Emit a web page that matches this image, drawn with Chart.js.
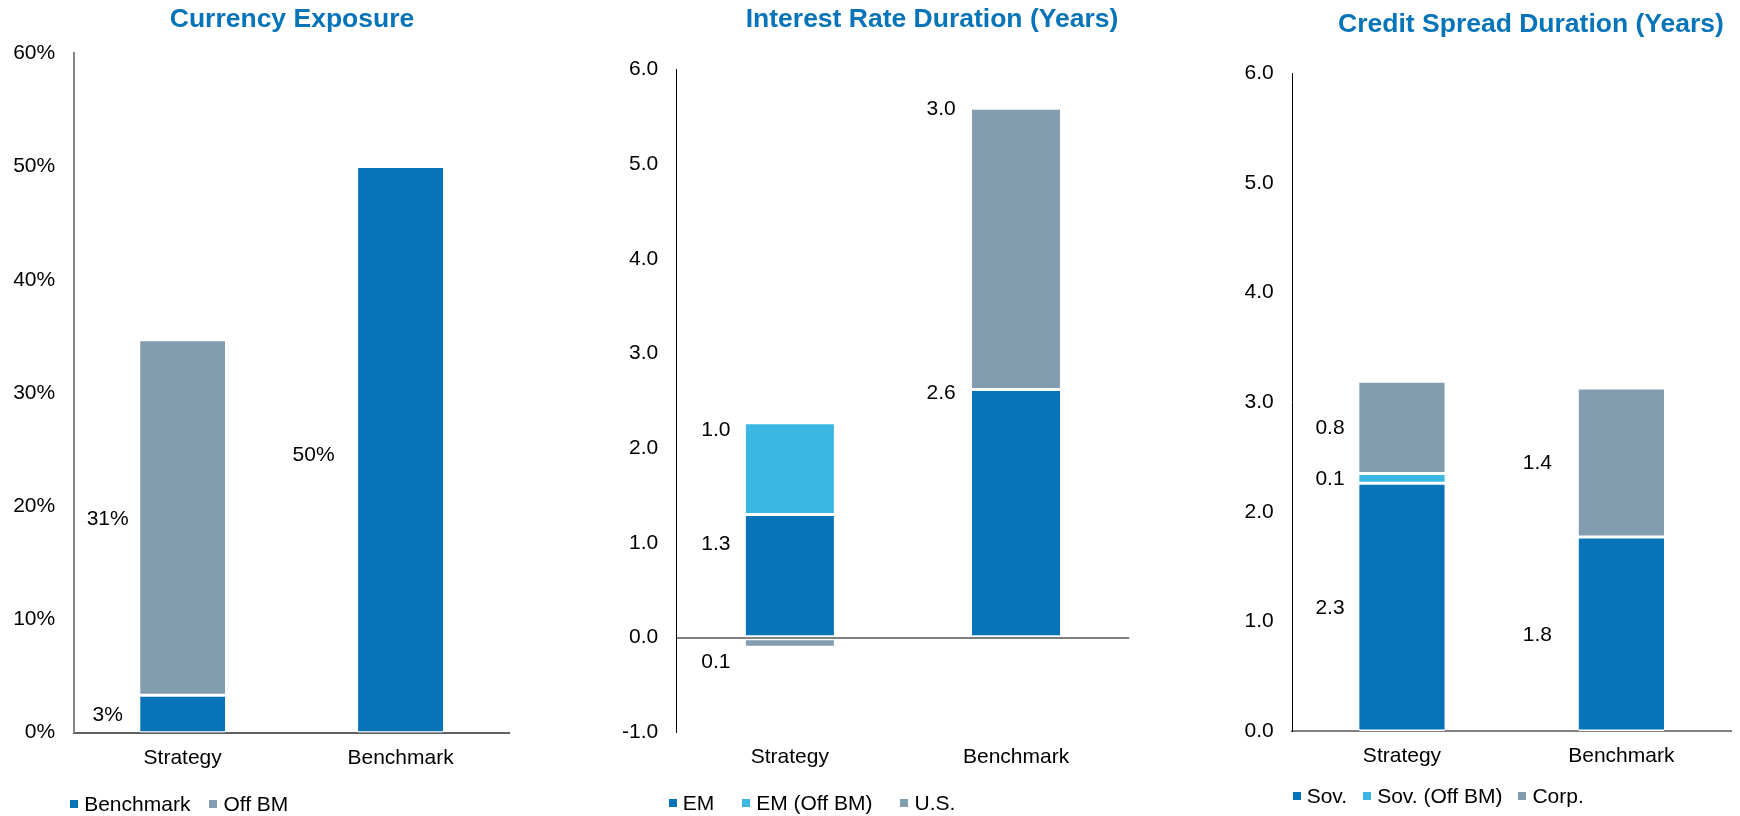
<!DOCTYPE html>
<html>
<head>
<meta charset="utf-8">
<title>Portfolio Exposures</title>
<script src="https://cdn.jsdelivr.net/npm/chart.js@4.4.1/dist/chart.umd.min.js"></script>
<style>
  html, body { margin: 0; padding: 0; background: #ffffff; width: 1740px; height: 816px; overflow: hidden; }
  canvas { position: absolute; top: 0; }
  .legend { position: absolute; display: flex; align-items: center; white-space: nowrap;
            font-family: 'Liberation Sans', Arial, sans-serif; font-size: 21px; line-height: 24px; color: #000; }
  .legend .item { display: flex; align-items: center; }
  .legend .swatch { width: 8px; height: 8px; margin-right: 6px; flex: none; }
</style>
</head>
<body>
<script>
// ---- data ----
const categories = ['Strategy', 'Benchmark'];

// Currency exposure (% of portfolio)
const currencyBenchmark = [3.3, 50];
const currencyOffBM = [31.4, null];

// Interest rate duration (years)
const rateEM = [1.3, 2.62];
const rateEMOffBM = [0.97, null];
const rateUS = [-0.1, 2.97];

// Credit spread duration (years)
const spreadSov = [2.26, 1.77];
const spreadSovOffBM = [0.09, null];
const spreadCorp = [0.84, 1.36];

// axis ticks
const pctTicks = [0, 10, 20, 30, 40, 50, 60];
const rateTicks = [-1, 0, 1, 2, 3, 4, 5, 6];
const spreadTicks = [0, 1, 2, 3, 4, 5, 6];

// ---- style ----
const DARK = '#0774B9';
const LIGHT = '#3AB7E3';
const GREY = '#839DB0';
const FONT = "'Liberation Sans', Arial, sans-serif";
const H = 816;

Chart.defaults.font.family = FONT;
Chart.defaults.color = '#000';

const panels = [
  {
    title: 'Currency Exposure', left: 0, width: 584, titleY: 20,
    area: { left: 73.7, right: 509.5, top: 53.3, bottom: 732.7 },
    ticks: pctTicks, tickFmt: v => v + '%', labelFmt: v => Math.round(v) + '%',
    yBorder: { color: '#868686', width: 2 }, xBorder: { display: true, color: '#5f5f5f', width: 2 },
    zeroLine: false,
    series: [
      { label: 'Benchmark', data: currencyBenchmark, color: DARK },
      { label: 'Off BM', data: currencyOffBM, color: GREY }
    ],
    labelDx: [75, 87], labelMode: 'center', labelDy: [[1, 6], [2, 0]],
    legendDx: -3.5, legendY: 804, legendGap: 19
  },
  {
    title: 'Interest Rate Duration (Years)', left: 620, width: 624, titleY: 20,
    area: { left: 676.7, right: 1129.2, top: 69.5, bottom: 732.4 },
    ticks: rateTicks, tickFmt: v => v.toFixed(1), labelFmt: v => Math.abs(v).toFixed(1),
    yBorder: { color: '#000', width: 1 }, xBorder: { display: false },
    zeroLine: true,
    series: [
      { label: 'EM', data: rateEM, color: DARK },
      { label: 'EM (Off BM)', data: rateEMOffBM, color: LIGHT },
      { label: 'U.S.', data: rateUS, color: GREY }
    ],
    labelDx: [74, 75], labelMode: 'end',
    labelDy: [[30, 4], [7, 0], [15, 1]],
    legendDx: -8, legendY: 803, legendGap: 28
  },
  {
    title: 'Credit Spread Duration (Years)', left: 1240, width: 582, titleY: 25,
    area: { left: 1292.3, right: 1731, top: 73.3, bottom: 731 },
    ticks: spreadTicks, tickFmt: v => v.toFixed(1), labelFmt: v => v.toFixed(1),
    yBorder: { color: '#000', width: 1 }, xBorder: { display: true, color: '#808080', width: 2 },
    zeroLine: false,
    series: [
      { label: 'Sov.', data: spreadSov, color: DARK },
      { label: 'Sov. (Off BM)', data: spreadSovOffBM, color: LIGHT },
      { label: 'Corp.', data: spreadCorp, color: GREY }
    ],
    labelDx: [72, 84], labelMode: 'center', labelDy: [[1, 1], [1, 0], [1, 1]],
    legendDx: 0.4, legendY: 796, legendGap: 16
  }
];

// Writes each segment's value beside its bar.
const valueLabels = {
  id: 'valueLabels',
  afterDatasetsDraw(chart, args, opts) {
    const ctx = chart.ctx;
    ctx.save();
    ctx.font = '21px ' + FONT;
    ctx.fillStyle = '#000';
    ctx.textAlign = 'center';
    ctx.textBaseline = 'middle';
    chart.data.datasets.forEach((ds, di) => {
      chart.getDatasetMeta(di).data.forEach((bar, i) => {
        const v = ds.data[i];
        if (v === null || v === undefined) return;
        const x = bar.x - opts.dx[i];
        const shift = opts.dy ? opts.dy[di][i] : 0;
        const y = (opts.mode === 'center' ? (bar.y + bar.base) / 2 : bar.y) + shift;
        ctx.fillText(opts.fmt(v), x, y);
      });
    });
    ctx.restore();
  }
};

panels.forEach(p => {
  const canvas = document.createElement('canvas');
  canvas.width = p.width;
  canvas.height = H;
  canvas.style.left = p.left + 'px';
  document.body.appendChild(canvas);

  const titleSize = 26.5;
  const titleLine = titleSize * 1.2;

  const chart = new Chart(canvas, {
    type: 'bar',
    data: {
      labels: categories,
      datasets: p.series.map(s => ({
        label: s.label,
        data: s.data,
        yAxisID: 'y',
        backgroundColor: s.color,
        borderColor: '#ffffff',
        borderWidth: { top: 1.5, bottom: 1.5, left: 0, right: 0 },
        borderSkipped: false,
        barPercentage: 0.39,
        categoryPercentage: 1
      }))
    },
    plugins: [valueLabels],
    options: {
      responsive: false,
      animation: false,
      devicePixelRatio: 1,
      layout: { padding: 0 },
      plugins: {
        legend: { display: false },
        tooltip: { enabled: false },
        title: {
          display: true,
          text: p.title,
          color: DARK,
          font: { size: titleSize, weight: 'bold', family: FONT, lineHeight: 1.2 },
          padding: { top: p.titleY - titleLine / 2, bottom: p.area.top - p.titleY - titleLine / 2 }
        },
        valueLabels: { dx: p.labelDx, dy: p.labelDy, mode: p.labelMode, fmt: p.labelFmt }
      },
      scales: {
        x: {
          stacked: true,
          grid: { display: false, drawTicks: false },
          border: p.xBorder,
          ticks: { font: { size: 21 }, color: '#000', padding: 12.5, maxRotation: 0, autoSkip: false },
          afterFit: s => { s.height = H - p.area.bottom; }
        },
        y: {
          stacked: true,
          min: p.ticks[0],
          max: p.ticks[p.ticks.length - 1],
          z: p.zeroLine ? 1 : 0,
          afterBuildTicks: s => { s.ticks = p.ticks.map(v => ({ value: v })); },
          grid: p.zeroLine
            ? { display: true, drawTicks: false, lineWidth: 2,
                color: c => (c.tick && c.tick.value === 0 ? '#808080' : 'rgba(0,0,0,0)') }
            : { display: false, drawTicks: false },
          border: p.yBorder,
          ticks: { font: { size: 21 }, color: '#000', padding: 18.5, callback: v => p.tickFmt(v) },
          afterFit: s => { s.width = p.area.left - p.left; }
        },
        // empty right-hand gutter so the title stays centred on the canvas
        gutter: {
          type: 'linear',
          position: 'right',
          display: true,
          grid: { display: false, drawTicks: false },
          border: { display: false },
          ticks: { display: false },
          afterFit: s => { s.width = p.left + p.width - p.area.right; }
        }
      }
    }
  });

  // legend row under the plot
  const lg = document.createElement('div');
  lg.className = 'legend';
  lg.style.left = (p.area.left + p.legendDx) + 'px';
  lg.style.top = (p.legendY - 12) + 'px';
  chart.data.datasets.forEach((ds, k) => {
    const item = document.createElement('span');
    item.className = 'item';
    if (k < chart.data.datasets.length - 1) item.style.marginRight = p.legendGap + 'px';
    const sw = document.createElement('span');
    sw.className = 'swatch';
    sw.style.background = ds.backgroundColor;
    const tx = document.createElement('span');
    tx.textContent = ds.label;
    item.appendChild(sw);
    item.appendChild(tx);
    lg.appendChild(item);
  });
  document.body.appendChild(lg);
});
</script>
</body>
</html>
